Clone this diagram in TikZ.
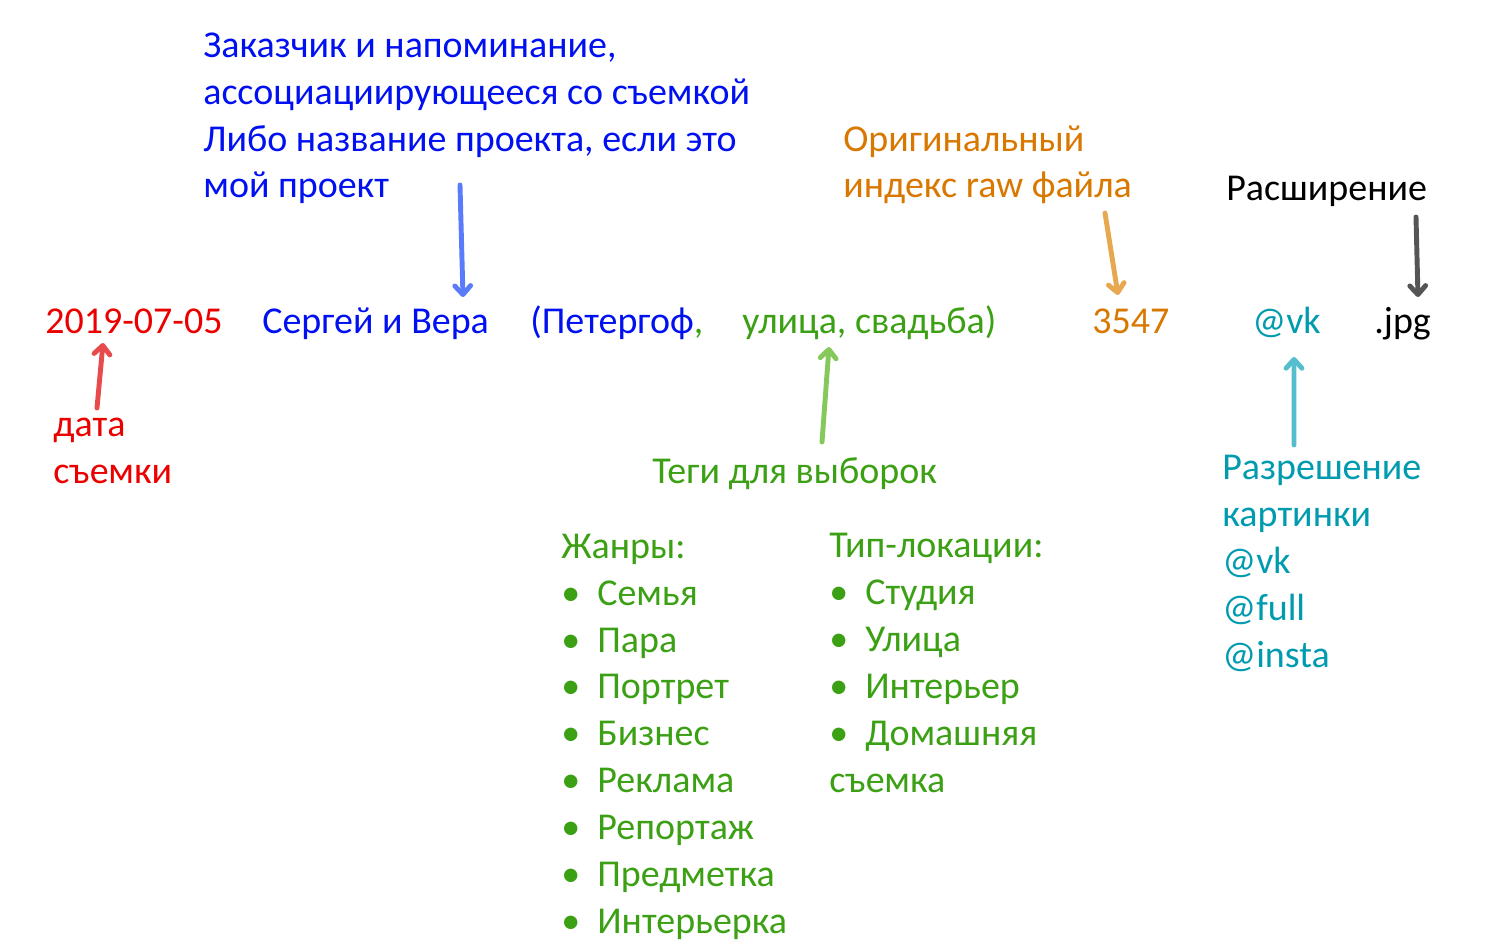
\documentclass[tikz,border=0pt]{standalone}
\usepackage{fontspec}
\setmainfont{Carlito}
\usepackage{tikz}
\usetikzlibrary{arrows.meta, calc, positioning}

\definecolor{datetxt}{RGB}{235,0,0}
\definecolor{whotxt}{RGB}{0,16,240}
\definecolor{tagtxt}{RGB}{60,160,20}
\definecolor{idxtxt}{RGB}{217,120,0}
\definecolor{restxt}{RGB}{0,155,175}
\definecolor{datearr}{RGB}{232,75,75}
\definecolor{whoarr}{RGB}{91,124,250}
\definecolor{tagarr}{RGB}{134,200,90}
\definecolor{idxarr}{RGB}{232,168,80}
\definecolor{resarr}{RGB}{85,190,204}
\definecolor{extarr}{RGB}{85,85,85}

\newcommand{\diagfont}{\fontsize{21.6}{26.65}\selectfont}
\newcommand{\bul}{\makebox[0.72cm][l]{\textbullet}}

\tikzset{
	lbl/.style={inner sep=0pt, anchor=base west, align=left, font=\diagfont},
	arr/.style={line width=2.8pt, line cap=round, -{Straight Barb[length=5pt,width=9pt,round]}}
}

\begin{document}
\begin{tikzpicture}
		\useasboundingbox (0,0) rectangle (29.84,-19);
		
		% file name parts
		\node[lbl, datetxt] (date) at (0.9,-6.66) {2019-07-05};
		\node[lbl, whotxt] (client) at (5.24,-6.66) {Сергей и Вера};
		\node[lbl, whotxt] (place) at (10.6,-6.66) {(Петергоф\textcolor{tagtxt}{,}};
		\node[lbl, tagtxt] (tags) at (14.84,-6.66) {улица, свадьба)};
		\node[lbl, idxtxt] (idx) at (21.84,-6.66) {3547};
		\node[lbl, restxt] (res) at (25.04,-6.66) {@vk};
		\node[lbl] (ext) at (27.48,-6.66) {.jpg};
		
		% explanations (placed at the baseline of their last line)
		\node[lbl, whotxt] (who) at (4.06,-3.96) {Заказчик и напоминание,\\ассоциациирующееся со съемкой\\Либо название проекта, если это\\мой проект};
		\node[lbl, idxtxt] (orig) at (16.86,-3.96) {Оригинальный\\индекс raw файла};
		\node[lbl] (extlbl) at (24.52,-4.02) {Расширение};
		\node[lbl, datetxt] (datelbl) at (1.06,-9.66) {дата\\съемки};
		\node[lbl, tagtxt] (taglbl) at (13.04,-9.66) {Теги для выборок};
		\node[lbl, restxt] (reslbl) at (24.44,-13.34) {Разрешение\\картинки\\@vk\\@full\\@insta};
		
		\node[lbl, tagtxt] (genres) at (11.22,-18.66) {Жанры:\\\bul Семья\\\bul Пара\\\bul Портрет\\\bul Бизнес\\\bul Реклама\\\bul Репортаж\\\bul Предметка\\\bul Интерьерка};
		\node[lbl, tagtxt] (locs) at (16.58,-15.84) {Тип-локации:\\\bul Студия\\\bul Улица\\\bul Интерьер\\\bul Домашняя\\съемка};
		
		% arrows
		\draw[arr, whoarr] ([shift={(5.14,0.26)}]who.base west) -- ([shift={(4.02,0.72)}]client.base west);
		\draw[arr, datearr] ([shift={(0.88,1.5)}]datelbl.base west) -- ([shift={(1.16,-0.2)}]date.base west);
		\draw[arr, tagarr] ([shift={(3.4,0.82)}]taglbl.base west) -- ([shift={(1.74,-0.28)}]tags.base west);
		\draw[arr, idxarr] ([shift={(5.24,-0.3)}]orig.base west) -- ([shift={(0.52,0.76)}]idx.base west);
		\draw[arr, extarr] ([shift={(3.8,-0.32)}]extlbl.base west) -- ([shift={(0.88,0.72)}]ext.base west);
		\draw[arr, resarr] ([shift={(1.44,4.44)}]reslbl.base west) -- ([shift={(0.84,-0.48)}]res.base west);
	\end{tikzpicture}
\end{document}
